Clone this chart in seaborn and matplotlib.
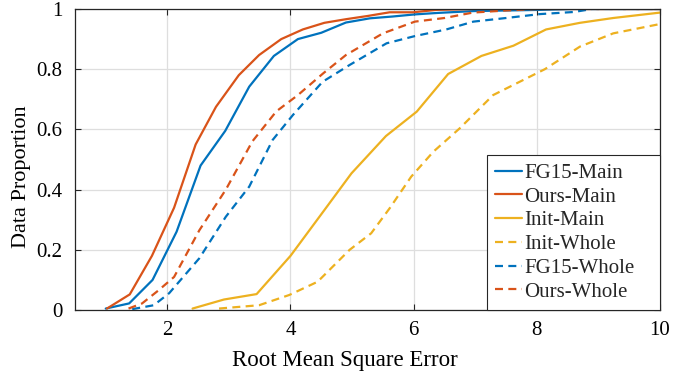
import numpy as np
import pandas as pd
import matplotlib
matplotlib.use('Agg')
import matplotlib.pyplot as plt
import seaborn as sns

# values
fg15_main_x = [1.0, 1.38, 1.76, 2.15, 2.54, 2.94, 3.33, 3.73, 4.12, 4.5, 4.9, 5.29, 5.66, 6.02, 6.4, 6.97, 8.05, 8.6, 10.0]
fg15_main_y = [0.005, 0.022, 0.10, 0.26, 0.48, 0.595, 0.742, 0.844, 0.90, 0.921, 0.955, 0.969, 0.975, 0.982, 0.987, 0.993, 0.997, 1.0, 1.0]

ours_main_x = [1.02, 1.39, 1.75, 2.11, 2.46, 2.79, 3.16, 3.49, 3.85, 4.2, 4.55, 4.9, 5.26, 5.61, 5.99, 6.37, 7.0, 10.0]
ours_main_y = [0.005, 0.052, 0.18, 0.34, 0.55, 0.675, 0.78, 0.847, 0.90, 0.932, 0.954, 0.966, 0.977, 0.989, 0.989, 0.997, 1.0, 1.0]

init_main_x = [2.41, 2.92, 3.45, 4.0, 4.55, 4.99, 5.55, 6.05, 6.56, 7.1, 7.62, 8.15, 8.7, 9.24, 10.0]
init_main_y = [0.005, 0.035, 0.053, 0.18, 0.332, 0.454, 0.578, 0.659, 0.784, 0.844, 0.878, 0.932, 0.954, 0.97, 0.988]

init_whole_x = [2.84, 3.49, 3.98, 4.44, 4.96, 5.31, 5.61, 5.96, 6.32, 6.75, 7.29, 8.13, 8.7, 9.24, 10.0]
init_whole_y = [0.005, 0.016, 0.05, 0.094, 0.20, 0.255, 0.338, 0.443, 0.526, 0.604, 0.714, 0.80, 0.875, 0.919, 0.95]

fg15_whole_x = [1.43, 1.78, 2.03, 2.52, 2.95, 3.33, 3.71, 4.04, 4.52, 4.96, 5.56, 6.02, 6.53, 6.97, 7.5, 8.05, 8.6, 8.9, 10.0]
fg15_whole_y = [0.003, 0.016, 0.056, 0.172, 0.31, 0.41, 0.565, 0.648, 0.758, 0.814, 0.886, 0.91, 0.932, 0.958, 0.97, 0.983, 0.99, 1.0, 1.0]

ours_whole_x = [1.37, 1.59, 1.86, 2.11, 2.52, 2.95, 3.38, 3.77, 4.12, 4.53, 4.9, 5.5, 6.02, 6.5, 6.96, 7.5, 8.0, 10.0]
ours_whole_y = [0.005, 0.022, 0.066, 0.11, 0.265, 0.40, 0.56, 0.66, 0.714, 0.786, 0.847, 0.919, 0.958, 0.97, 0.988, 0.995, 1.0, 1.0]

blue = '#0072BD'
orange = '#D95319'
yellow = '#EDB120'

series = [
    ('FG15-Main', fg15_main_x, fg15_main_y, blue, '-'),
    ('Ours-Main', ours_main_x, ours_main_y, orange, '-'),
    ('Init-Main', init_main_x, init_main_y, yellow, '-'),
    ('Init-Whole', init_whole_x, init_whole_y, yellow, '--'),
    ('FG15-Whole', fg15_whole_x, fg15_whole_y, blue, '--'),
    ('Ours-Whole', ours_whole_x, ours_whole_y, orange, '--'),
]

sns.set_style('whitegrid')
plt.rcParams['font.family'] = ['Liberation Serif', 'DejaVu Serif']

fig = plt.figure(figsize = (6.94, 3.74), dpi = 100)
ax = fig.add_axes([0.108, 0.171, 0.843, 0.805])

for name, xs, ys, color, style in series:
    df = pd.DataFrame({'x': xs, 'y': ys})
    sns.lineplot(data = df, x = 'x', y = 'y', ax = ax, color = color, linewidth = 1.6, label = name, sort = False)
    if style == '--':
        ax.lines[-1].set_dashes((3.6, 2.4))

ax.set_xlim(0.5, 10)
ax.set_ylim(0, 1)
ax.set_xticks([2, 4, 6, 8, 10])
ax.set_xticklabels(['2', '4', '6', '8', '10'])
ax.set_yticks([0, 0.2, 0.4, 0.6, 0.8, 1])
ax.set_yticklabels(['0', '0.2', '0.4', '0.6', '0.8', '1'])
ax.set_xlabel('Root Mean Square Error', fontsize = 16.5, color = 'black', labelpad = 7)
ax.set_ylabel('Data Proportion', fontsize = 16, color = 'black', labelpad = 4)
# labels sit a bit off-centre in the reference
ax.xaxis.label.set_x(0.4615)
ax.yaxis.label.set_y(0.442)

ax.grid(True, color = '#dedede', linewidth = 0.9)
for side in ['top', 'bottom', 'left', 'right']:
    ax.spines[side].set_visible(True)
    ax.spines[side].set_color('#262626')
    ax.spines[side].set_linewidth(0.9)
ax.tick_params(axis = 'both', which = 'both', direction = 'in', length = 4, width = 0.8,
               top = True, right = True, bottom = True, left = True,
               labelsize = 15, colors = '#262626', labelcolor = 'black')
ax.tick_params(axis = 'x', pad = 8)
ax.tick_params(axis = 'y', pad = 9)

# legend box stretched to the reference width, text left-aligned
leg_w = 173 / 585
leg = ax.legend(loc = 'lower right', bbox_to_anchor = (1 - leg_w, 0, leg_w, 0.5), mode = 'expand',
                fontsize = 15, frameon = True, fancybox = False,
                handlelength = 1.3, handletextpad = 0.08, borderpad = 0.4, labelspacing = 0.2,
                borderaxespad = 0.0)
leg.get_frame().set_edgecolor('#262626')
leg.get_frame().set_linewidth(0.8)
leg.get_frame().set_alpha(1)

fig.savefig('out.png', dpi = 100)
